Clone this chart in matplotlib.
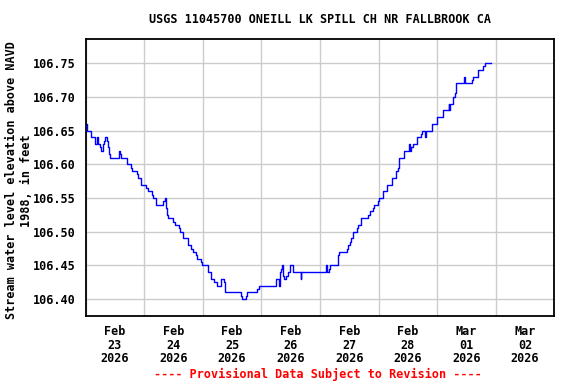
import numpy as np
import pandas as pd
import matplotlib
matplotlib.use("Agg")
import matplotlib.pyplot as plt
import matplotlib.dates as mdates

# Gage height readings, hours since 2026-02-23 00:00 and water level (ft, NAVD 1988)
hours = [0.0, 0.5, 0.75, 2.25, 4.0, 4.6, 5.0, 5.9, 6.5, 7.3, 7.7, 8.1, 8.7, 9.1, 9.5, 9.9,
         13.9, 14.3, 14.7, 17.1, 18.8, 19.2, 21.0, 21.5, 22.9, 24.9, 25.5, 27.1, 27.5, 29.0,
         31.9, 32.4, 33.1, 33.5, 33.9, 36.0, 36.5, 38.2, 38.6, 40.1, 42.0, 43.1, 43.9, 45.3,
         45.7, 47.4, 47.9, 50.0, 51.5, 52.8, 53.7, 55.6, 56.7, 57.3, 63.6, 64.1, 65.8, 66.3,
         70.4, 71.0, 77.9, 79.3, 79.6, 80.0, 80.5, 81.0, 81.4, 82.3, 82.8, 83.8, 85.1, 88.2,
         88.4, 98.5, 99.0, 99.6, 100.2, 103.6, 104.0, 107.0, 107.4, 108.3, 108.7, 109.7,
         111.3, 111.7, 112.8, 115.8, 116.4, 117.9, 118.3, 119.9, 120.4, 121.7, 122.0, 123.6,
         125.7, 127.2, 128.1, 128.5, 130.6, 132.6, 133.0, 133.3, 134.0, 135.9, 137.4, 138.0,
         139.1, 139.5, 142.1, 144.1, 146.6, 148.8, 149.0, 149.3, 150.6, 151.3, 151.7, 155.1,
         155.5, 158.4, 158.8, 160.9, 162.9, 163.5, 166.0]
levels = [106.66, 106.655, 106.65, 106.64, 106.63, 106.64, 106.63, 106.625, 106.62, 106.63,
          106.635, 106.64, 106.635, 106.625, 106.615, 106.61,
          106.62, 106.615, 106.61, 106.60, 106.595, 106.59, 106.585, 106.58, 106.57, 106.565,
          106.56, 106.555, 106.55, 106.54,
          106.545, 106.55, 106.535, 106.525, 106.52, 106.515, 106.51, 106.505, 106.50, 106.49,
          106.48, 106.475, 106.47, 106.465,
          106.46, 106.455, 106.45, 106.44, 106.43, 106.425, 106.42, 106.43, 106.425, 106.41,
          106.405, 106.40, 106.405, 106.41,
          106.415, 106.42, 106.43, 106.42, 106.44, 106.445, 106.45, 106.435, 106.43, 106.435,
          106.44, 106.45, 106.44, 106.43,
          106.44, 106.45, 106.44, 106.445, 106.45, 106.465, 106.47, 106.475, 106.48, 106.485,
          106.49, 106.50,
          106.505, 106.51, 106.52, 106.525, 106.53, 106.535, 106.54, 106.545, 106.55, 106.555,
          106.56, 106.57,
          106.58, 106.59, 106.595, 106.61, 106.62, 106.63, 106.62, 106.625, 106.63, 106.64,
          106.645, 106.65,
          106.64, 106.65, 106.66, 106.67, 106.68, 106.69, 106.68, 106.69, 106.70, 106.705,
          106.72, 106.73,
          106.72, 106.725, 106.73, 106.74, 106.745, 106.75, 106.75]

y_ticks = [106.40, 106.45, 106.50, 106.55, 106.60, 106.65, 106.70, 106.75]
day_labels = ["Feb\n23\n2026", "Feb\n24\n2026", "Feb\n25\n2026", "Feb\n26\n2026",
              "Feb\n27\n2026", "Feb\n28\n2026", "Mar\n01\n2026", "Mar\n02\n2026"]

title = "USGS 11045700 ONEILL LK SPILL CH NR FALLBROOK CA"
y_label = "Stream water level elevation above NAVD\n1988, in feet"
footer = "---- Provisional Data Subject to Revision ----"

start = pd.Timestamp("2026-02-23 00:00")
times = start + pd.to_timedelta(hours, unit="h")
days = pd.date_range(start, periods=9, freq="D")
noons = days[:-1] + pd.Timedelta(hours=12)

font = {"family": "DejaVu Sans Mono", "weight": "bold", "size": 8.5}

fig = plt.figure(figsize=(5.76, 3.84), dpi=100)
ax = fig.add_axes([0.1485, 0.178, 0.8138, 0.7205])

# Step line like the USGS hydrograph
ax.plot(times, levels, drawstyle="steps-post", color="#0000ff", linewidth=1.0)

ax.set_xlim(days[0], days[-1])
ax.set_ylim(106.3757, 106.7856)

# Gridlines at midnight, labels at noon
ax.set_xticks(days)
ax.set_xticklabels([])
ax.set_xticks(noons, minor=True)
ax.set_xticklabels(day_labels, minor=True, linespacing=1.05, **font)
ax.tick_params(axis="x", which="both", length=0)
ax.tick_params(axis="x", which="minor", pad=7)

ax.set_yticks(y_ticks)
ax.set_yticklabels([f"{v:.2f}" for v in y_ticks], **font)
ax.tick_params(axis="y", length=0, pad=7)

ax.grid(True, which="major", color="#cccccc", linewidth=1.0)
ax.set_axisbelow(True)
for s in ax.spines.values():
    s.set_linewidth(1.3)

fig.text(0.556, 0.95, title, ha="center", va="center", **font)
fig.text(0.033, 0.53, y_label, ha="center", va="center", rotation=90,
         linespacing=1.15, **font)
fig.text(0.552, 0.025, footer, ha="center", va="center", color="red", **font)

fig.savefig("out.png", dpi=100)
